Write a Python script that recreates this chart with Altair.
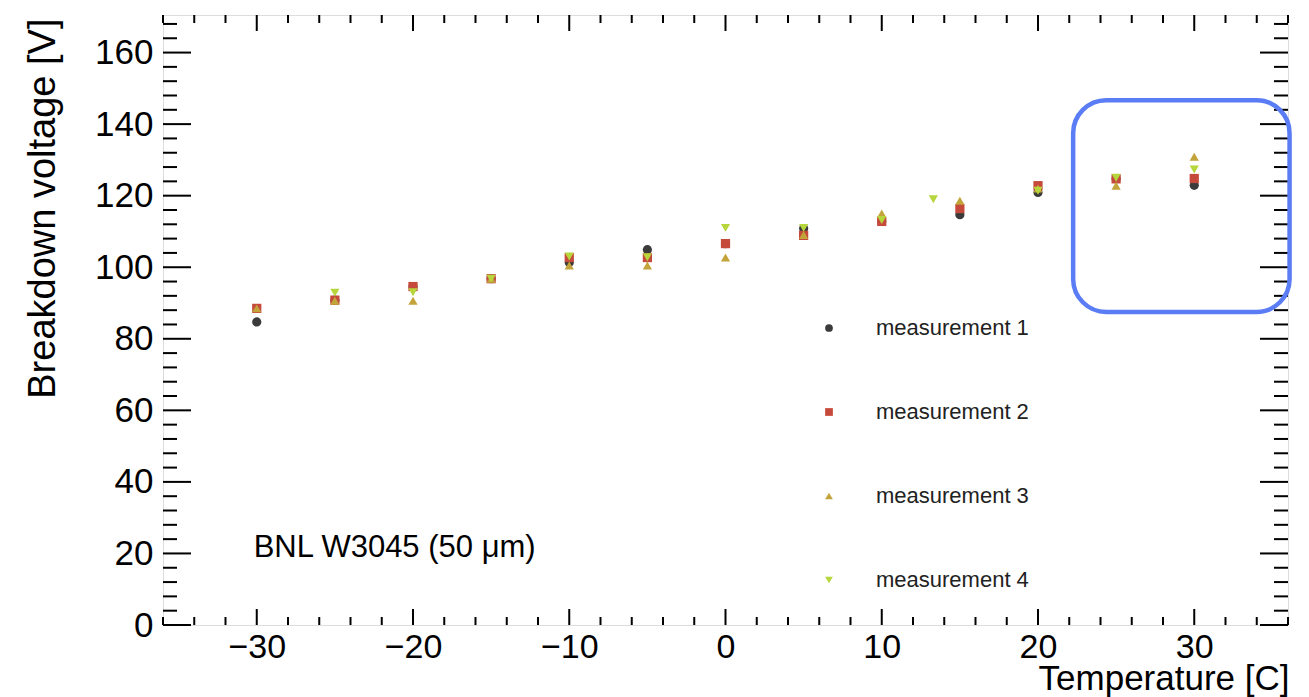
import altair as alt
import pandas as pd

# ---- data ----
temperature = [-30, -25, -20, -15, -10, -5, 0, 5, 10, 13.3, 15, 20, 25, 30]
meas1 = [84.7, 90.8, 94.6, 96.8, 101.3, 104.9, 106.6, 110.8, 112.8, None, 114.7, 120.9, 124.7, 122.9]
meas2 = [88.5, 90.8, 94.6, 96.8, 102.7, 102.7, 106.6, 108.9, 112.8, None, 116.4, 122.8, 124.7, 124.8]
meas3 = [88.5, 90.6, 90.6, 96.8, 100.5, 100.5, 102.7, 109.0, 115.0, None, 118.6, 122.0, 122.8, 130.9]
meas4 = [None, 92.9, 93.0, 96.8, 103.0, 102.8, 111.0, 111.0, 113.2, 119.0, None, 121.4, 125.0, 127.3]

series_names = ["measurement 1", "measurement 2", "measurement 3", "measurement 4"]
series_colors = ["#3b3b3b", "#c64a3b", "#c2a43a", "#b6d63c"]
series_shapes = ["circle", "square", "triangle-up", "triangle-down"]

x_domain = [-36, 36]
y_domain = [0, 170.5]
x_major = [-30, -20, -10, 0, 10, 20, 30]
x_minor = [v for v in range(-36, 37, 2) if v % 10 != 0]
y_major = [0, 20, 40, 60, 80, 100, 120, 140, 160]
y_minor = [v for v in range(4, 170, 4) if v % 20 != 0]

label_text = ["BNL W3045 (50 \u03bcm)"]
label_x = [-30.2]
label_y = [19.0]

box_x = [22.25]
box_x2 = [36.1]
box_y = [87.5]
box_y2 = [146.7]

W, H = 1125, 610
FONT = "Liberation Sans"

rows = []
for name, vals in zip(series_names, [meas1, meas2, meas3, meas4]):
    for t, v in zip(temperature, vals):
        if v is not None:
            rows.append({"T": t, "V": v, "series": name})
df = pd.DataFrame(rows)

xs = alt.Scale(domain=x_domain, nice=False, zero=False)
ys = alt.Scale(domain=y_domain, nice=False, zero=False)

x_axis = alt.Axis(
    values=x_major, ticks=False, domain=False, grid=False,
    labelFont=FONT, labelFontSize=34, labelColor="black", labelPadding=5,
    title="Temperature [C]", titleFont=FONT, titleFontSize=35,
    titleFontWeight="normal", titleColor="black",
    titleAlign="right", titleBaseline="alphabetic", titleX=W + 1, titleY=64)
y_axis = alt.Axis(
    values=y_major, ticks=False, domain=False, grid=False,
    labelFont=FONT, labelFontSize=35, labelColor="black", labelPadding=10,
    title="Breakdown voltage [V]", titleFont=FONT, titleFontSize=38,
    titleFontWeight="normal", titleColor="black", titleAngle=270,
    titleAlign="right", titleBaseline="alphabetic", titleX=-109, titleY=3)

points = alt.Chart(df).mark_point(filled=True, opacity=1, size=85).encode(
    x=alt.X("T:Q", scale=xs, axis=x_axis),
    y=alt.Y("V:Q", scale=ys, axis=y_axis),
    color=alt.Color("series:N", scale=alt.Scale(domain=series_names, range=series_colors),
                    legend=alt.Legend(title=None, orient="none", legendX=655, legendY=302,
                                      labelFont=FONT, labelFontSize=22, labelColor="#222222",
                                      symbolSize=60, labelOffset=36, rowPadding=62,
                                      symbolStrokeWidth=0)),
    shape=alt.Shape("series:N", scale=alt.Scale(domain=series_names, range=series_shapes)),
    order=alt.Order("series:N"),
)

def xticks(vals, length):
    d = pd.DataFrame({"v": vals})
    bottom = alt.Chart(d).mark_rule(color="black", strokeWidth=2).encode(
        x=alt.X("v:Q", scale=xs, axis=x_axis), y=alt.value(H), y2=alt.value(H - length))
    top = alt.Chart(d).mark_rule(color="black", strokeWidth=2).encode(
        x=alt.X("v:Q", scale=xs, axis=x_axis), y=alt.value(0), y2=alt.value(length))
    return [bottom, top]

def yticks(vals, length):
    d = pd.DataFrame({"v": vals})
    left = alt.Chart(d).mark_rule(color="black", strokeWidth=2).encode(
        y=alt.Y("v:Q", scale=ys, axis=y_axis), x=alt.value(0), x2=alt.value(length))
    right = alt.Chart(d).mark_rule(color="black", strokeWidth=2).encode(
        y=alt.Y("v:Q", scale=ys, axis=y_axis), x=alt.value(W), x2=alt.value(W - length))
    return [left, right]

ticks = xticks(x_major, 16) + xticks(x_minor, 8) + yticks(y_major, 28) + yticks(y_minor, 14)

label = alt.Chart(pd.DataFrame({"x": label_x, "y": label_y, "t": label_text})).mark_text(
    font=FONT, fontSize=31, align="left", baseline="alphabetic", color="black").encode(
    x=alt.X("x:Q", scale=xs, axis=x_axis), y=alt.Y("y:Q", scale=ys, axis=y_axis), text="t:N")

box = alt.Chart(pd.DataFrame({"x": box_x, "x2": box_x2, "y": box_y, "y2": box_y2})).mark_rect(
    fill="transparent", stroke="#5a7cf4", strokeWidth=4.5, cornerRadius=33, clip=False).encode(
    x=alt.X("x:Q", scale=xs, axis=x_axis), x2="x2:Q",
    y=alt.Y("y:Q", scale=ys, axis=y_axis), y2="y2:Q")

chart = alt.layer(points, *ticks, label, box).properties(
    width=W, height=H, autosize="none",
    padding={"left": 163, "top": 15, "right": 21, "bottom": 72},
).configure_view(stroke="black", strokeWidth=2).configure(background="white")

chart.save("out.html", embed_options={"renderer": "svg", "actions": False})
